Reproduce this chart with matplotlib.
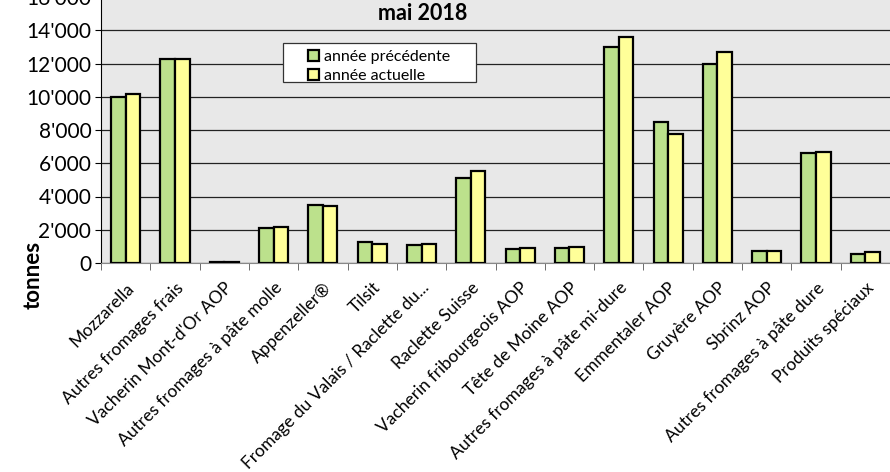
import numpy as np
import matplotlib
matplotlib.use('Agg')
import matplotlib.pyplot as plt
from matplotlib.patches import Rectangle
from matplotlib.ticker import FuncFormatter

plt.rcParams['font.family'] = ['Lato', 'DejaVu Sans']

categories = ['Mozzarella', 'Autres fromages frais', "Vacherin Mont-d'Or AOP",
              'Autres fromages à pâte molle', 'Appenzeller®', 'Tilsit',
              'Fromage du Valais / Raclette du...', 'Raclette Suisse',
              'Vacherin fribourgeois AOP', 'Tête de Moine AOP',
              'Autres fromages à pâte mi-dure', 'Emmentaler AOP', 'Gruyère AOP',
              'Sbrinz AOP', 'Autres fromages à pâte dure', 'Produits spéciaux']
prev_year = [9960, 12270, 70, 2110, 3510, 1250, 1070, 5120, 860, 900,
             13010, 8480, 11970, 740, 6640, 560]
curr_year = [10160, 12290, 70, 2190, 3430, 1160, 1130, 5560, 880, 980,
             13610, 7750, 12670, 740, 6660, 660]
series_names = ['année précédente', 'année actuelle']

W, H = 890, 472
fig = plt.figure(figsize=(W / 100, H / 100), dpi=100)
ax = fig.add_axes([101 / W, 1 - 263 / H, 1 - 101 / W, 266 / H])
ax.set_facecolor('#e8e8e8')

x = np.arange(len(categories))
w = 0.295
ax.bar(x - w / 2, prev_year, w, color='#bce18c', edgecolor='black',
       linewidth=1.6, label=series_names[0], zorder=3)
ax.bar(x + w / 2, curr_year, w, color='#ffff99', edgecolor='black',
       linewidth=1.6, label=series_names[1], zorder=3)

ax.set_xlim(-0.5, len(categories) - 0.5)
ax.set_ylim(0, 16000)
ax.set_yticks(np.arange(0, 16001, 2000))
ax.yaxis.set_major_formatter(FuncFormatter(lambda v, p: f'{int(v):,}'.replace(',', "'")))
ax.yaxis.grid(True, color='#222222', linewidth=0.9, zorder=0)
ax.tick_params(axis='y', labelsize=15, length=4, direction='out', pad=3)

ax.set_xticks(x)
ax.set_xticklabels(categories, rotation=45, ha='right', va='top',
                   rotation_mode='anchor', fontsize=12.5)
ax.set_xticks(np.arange(-0.5, len(categories)), minor=True)
ax.tick_params(axis='x', which='major', length=0, pad=12)
ax.tick_params(axis='x', which='minor', length=5, color='#555555')

for s in ['top', 'right']:
    ax.spines[s].set_visible(False)
ax.spines['bottom'].set_color('#888888')

# legend box with the wide frame seen in the reference
fig.patches.append(Rectangle((283 / W, 1 - 82 / H), 193 / W, 39 / H,
                             transform=fig.transFigure, facecolor='white',
                             edgecolor='#333333', linewidth=0.9, zorder=4))
handles, labels = ax.get_legend_handles_labels()
leg = fig.legend(handles, labels, loc='upper left',
                 bbox_to_anchor=(300 / W, 1 - 42 / H),
                 bbox_transform=fig.transFigure, fontsize=11.5, frameon=False,
                 handlelength=0.7, handleheight=0.7, handletextpad=0.3,
                 borderpad=0, labelspacing=0.3)
leg.set_zorder(5)

fig.text(423 / W, 1 - 14 / H, 'mai 2018', ha='center', va='center',
         fontsize=15.5, fontweight='bold')
fig.text(33 / W, 1 - 275 / H, 'tonnes', rotation=90, ha='center',
         va='center', fontsize=16, fontweight='bold')

fig.savefig('out.png', dpi=100)
